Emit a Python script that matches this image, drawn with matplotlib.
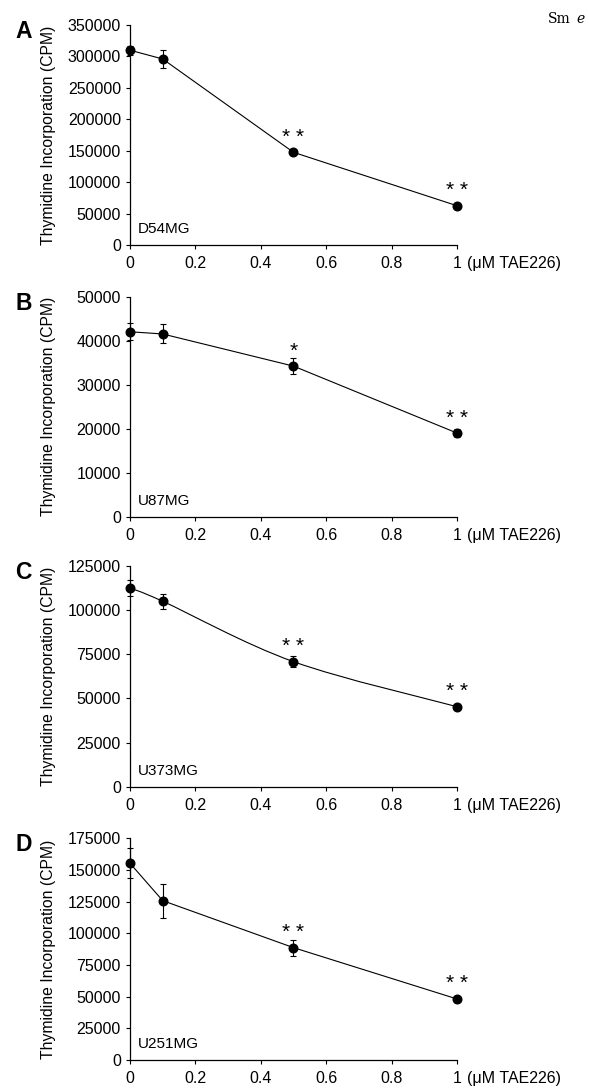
import numpy as np
import matplotlib
matplotlib.use("Agg")
import matplotlib.pyplot as plt
from matplotlib.path import Path
from matplotlib.patches import PathPatch

plt.rcParams['font.family'] = ['Liberation Sans', 'DejaVu Sans']

# TAE226 dose (uM)
dose = [0, 0.1, 0.5, 1]
dose_ticks = [0, 0.2, 0.4, 0.6, 0.8, 1]
dose_labels = ["0", "0.2", "0.4", "0.6", "0.8", "1"]

# thymidine incorporation (CPM), mean and error
d54_mean = [310000, 296000, 147500, 62500]
d54_err = [7000, 14000, 3000, 2000]
d54_stars = ["", "", "**", "**"]

u87_mean = [42000, 41500, 34200, 19000]
u87_err = [1900, 2150, 1900, 1000]
u87_stars = ["", "", "*", "**"]

u373_mean = [112500, 105000, 70800, 45300]
u373_err = [4700, 4300, 3000, 1000]
u373_stars = ["", "", "**", "**"]

u251_mean = [155300, 125800, 88700, 48200]
u251_err = [11800, 13500, 6300, 1500]
u251_stars = ["", "", "**", "**"]

panels = [
    ("A", "D54MG", d54_mean, d54_err, d54_stars, 350000, 50000, False),
    ("B", "U87MG", u87_mean, u87_err, u87_stars, 50000, 10000, False),
    ("C", "U373MG", u373_mean, u373_err, u373_stars, 125000, 25000, True),
    ("D", "U251MG", u251_mean, u251_err, u251_stars, 175000, 25000, False),
]

fig = plt.figure(figsize=(5.89, 10.89), dpi=100)

# axes boxes in figure fraction (bottom, height)
boxes = [(0.7750, 0.2020), (0.5255, 0.2022), (0.2776, 0.2027), (0.0266, 0.2036)]
left, width = 0.2207, 0.5552


def smooth_path(x, y):
    # excel-like smoothed line (catmull-rom -> bezier)
    pts = np.column_stack([x, y]).astype(float)
    n = len(pts)
    verts = [pts[0]]
    codes = [Path.MOVETO]
    for i in range(n - 1):
        p0 = pts[max(i - 1, 0)]
        p1 = pts[i]
        p2 = pts[i + 1]
        p3 = pts[min(i + 2, n - 1)]
        c1 = p1 + (p2 - p0) / 6.0
        c2 = p2 - (p3 - p1) / 6.0
        verts += [c1, c2, p2]
        codes += [Path.CURVE4] * 3
    return Path(verts, codes)


for (letter, cell, mean, err, stars, ymax, ystep, smooth), (bot, h) in zip(panels, boxes):
    ax = fig.add_axes([left, bot, width, h])
    if smooth:
        ax.add_patch(PathPatch(smooth_path(dose, mean), fill=False, lw=0.8, color='black',
                               zorder=2, clip_on=False))
        eb = ax.errorbar(dose, mean, yerr=err, fmt='o', color='black', ms=6.2,
                         elinewidth=0.8, capsize=2, capthick=0.8, zorder=3)
    else:
        eb = ax.errorbar(dose, mean, yerr=err, fmt='-o', color='black', lw=0.8, ms=6.2,
                         elinewidth=0.8, capsize=2, capthick=0.8, zorder=3)
    for art in eb.get_children():
        art.set_clip_on(False)
    for x, y, s in zip(dose, mean, stars):
        if s:
            ax.annotate(" ".join(s), (x, y), xytext=(0, 4), textcoords='offset points',
                        ha='center', va='bottom', fontsize=15)
    ax.set_xlim(0, 1)
    ax.set_ylim(0, ymax)
    ax.set_xticks(dose_ticks)
    ax.set_xticklabels(dose_labels)
    ax.set_yticks(np.arange(0, ymax + 1, ystep))
    ax.spines['top'].set_visible(False)
    ax.spines['right'].set_visible(False)
    for sp in ('left', 'bottom'):
        ax.spines[sp].set_linewidth(0.9)
    ax.tick_params(axis='both', direction='out', length=3, width=0.8, labelsize=11.5)
    ax.tick_params(axis='x', pad=5)
    ax.set_ylabel("Thymidine Incorporation (CPM)", fontsize=11.3)
    ax.yaxis.set_label_coords(-0.226, 0.5)
    ax.text(0.025, 0.04, cell, transform=ax.transAxes, fontsize=11, ha='left', va='bottom')
    ax.text(1.03, -0.085, "(\u03bcM TAE226)", transform=ax.transAxes, fontsize=11.5,
            ha='left', va='center')
    ax.text(-0.325, 0.97, letter, transform=ax.transAxes, fontsize=16.5, fontweight='bold',
            ha='center', va='center')

fig.text(548 / 589, 1 - 19 / 1089, "Sm", family='DejaVu Serif', fontsize=10, ha='left', va='center')
fig.text(576 / 589, 1 - 19 / 1089, "e", family='DejaVu Serif', style='italic', fontsize=10,
         ha='left', va='center')

fig.savefig("out.png", dpi=100)
